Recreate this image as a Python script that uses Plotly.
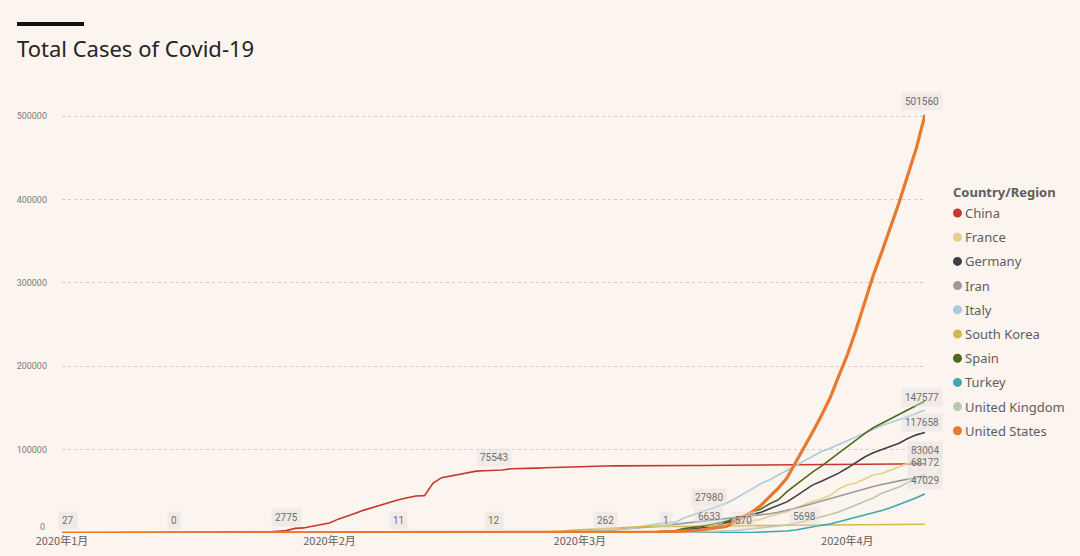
import pandas as pd
import plotly.graph_objects as go

# ---------------- data ----------------
countries = ["China", "France", "Germany", "Iran", "Italy", "South Korea",
             "Spain", "Turkey", "United Kingdom", "United States"]
colors = ["#C8372D", "#E6CF86", "#3F3F45", "#9A9A9A", "#A9CCD8", "#D6B94E",
          "#4D6A1C", "#3AA8AE", "#B9C8AA", "#E8792F"]

# first date with data after the Jan-1 zero point, then daily cumulative totals
china_start = "2020-01-22"
china = [548, 643, 920, 1406, 2075, 2877, 5509, 6087, 8141, 9802,
         11891, 16630, 19716, 23707, 27440, 30587, 34110, 36814, 39829, 42354,
         44386, 44759, 59895, 66358, 68413, 70513, 72434, 74211, 74619, 75077,
         75550, 77001, 77022, 77241, 77754, 78166, 78600, 78928, 79356, 79932,
         80136, 80261, 80386, 80537, 80690, 80770, 80823, 80860, 80887, 80921,
         80932, 80945, 80977, 81003, 81033, 81058, 81102, 81156, 81250, 81305,
         81435, 81498, 81591, 81661, 81782, 81897, 81999, 82122, 82198, 82279,
         82361, 82432, 82511, 82543, 82602, 82665, 82718, 82809, 82883, 83004]
china_jan1 = 27

france_start = "2020-02-28"
france = [57, 100, 130, 191, 204, 288, 380, 656, 959, 1136, 1219, 1794, 2293,
          2293, 3681, 4496, 4532, 6633, 7715, 9124, 10970, 12758, 14463, 16243,
          20123, 22622, 25600, 29551, 33402, 38105, 40708, 45170, 52827, 57749,
          59929, 65202, 69500, 71412, 75343, 79163, 83057, 87366, 89000]

germany_start = "2020-03-01"
germany = [130, 159, 196, 262, 482, 670, 799, 1040, 1176, 1457, 1908, 2078,
           3675, 4585, 5795, 7272, 9257, 12327, 15320, 19848, 22213, 24873,
           29056, 32986, 37323, 43938, 50871, 57695, 62095, 66885, 71808, 77872,
           84794, 91159, 96092, 100123, 103374, 107663, 113296, 117658, 120500]

iran_start = "2020-02-19"
iran = [2, 5, 18, 28, 43, 61, 95, 139, 245, 388, 593, 978, 1501, 2336, 2922,
        3513, 4747, 5823, 6566, 7161, 8042, 9000, 10075, 11364, 12729, 13938,
        14991, 16169, 17361, 18407, 19644, 20610, 21638, 23049, 24811, 27017,
        29406, 32332, 35408, 38309, 41495, 44605, 47593, 50468, 53183, 55743,
        58226, 60500, 62589, 64586, 66220, 68192]

italy_start = "2020-02-21"
italy = [20, 62, 155, 229, 322, 453, 655, 888, 1128, 1694, 2036, 2502, 3089,
         3858, 4636, 5883, 7375, 9172, 10149, 12462, 12462, 17660, 21157, 24747,
         27980, 31506, 35713, 41035, 47021, 53578, 59138, 63927, 69176, 74386,
         80589, 86498, 92472, 97689, 101739, 105792, 110574, 115242, 119827,
         124632, 128948, 132547, 135586, 139422, 143626, 147577]

korea_start = "2020-02-18"
korea = [31, 31, 104, 204, 433, 602, 833, 977, 1261, 1766, 2337, 3150, 3736,
         4335, 5186, 5621, 6088, 6593, 7041, 7314, 7478, 7513, 7755, 7869, 7979,
         8086, 8162, 8236, 8320, 8413, 8565, 8652, 8799, 8897, 8961, 9037, 9137,
         9241, 9332, 9478, 9583, 9661, 9786, 9887, 9976, 10062, 10156, 10237,
         10284, 10331, 10384, 10423, 10450]

spain_start = "2020-03-01"
spain = [84, 120, 165, 222, 259, 400, 500, 673, 1073, 1695, 2277, 2277, 5232,
         6391, 7798, 9942, 11748, 13910, 17963, 20410, 25374, 28768, 35136,
         39885, 49515, 57786, 65719, 73235, 80110, 87956, 95923, 104118, 112065,
         119199, 126168, 131646, 136675, 141942, 148220, 153222, 158273]

turkey_start = "2020-03-11"
turkey = [1, 1, 5, 5, 6, 18, 47, 98, 192, 359, 670, 1236, 1529, 1872, 2433,
          3629, 5698, 7402, 9217, 10827, 13531, 15679, 18135, 20921, 23934,
          27069, 30217, 34109, 38226, 42282, 47029]

uk_start = "2020-03-01"
uk = [36, 40, 51, 86, 116, 164, 207, 274, 322, 384, 459, 459, 801, 1143, 1143,
      1551, 1960, 2642, 2716, 4014, 5067, 5741, 6726, 8077, 9529, 11658, 14543,
      17089, 19522, 22141, 25150, 29474, 33718, 38168, 41903, 47806, 51608,
      55242, 60733, 65077, 70500]

us_start = "2020-03-01"
us = [75, 100, 124, 158, 221, 319, 435, 541, 704, 994, 1301, 1630, 2183, 2770,
      3613, 4596, 6344, 7869, 13680, 19101, 25493, 33272, 43847, 53740, 65778,
      83836, 101657, 121478, 140886, 161807, 188172, 213372, 243453, 275586,
      308850, 337072, 366667, 396223, 429052, 461437, 501560]

series_start = [china_start, france_start, germany_start, iran_start, italy_start,
                korea_start, spain_start, turkey_start, uk_start, us_start]
series_vals = [china, france, germany, iran, italy, korea, spain, turkey, uk, us]
jan1_vals = [china_jan1, 0, 0, 0, 0, 0, 0, 0, 0, 0]

x_start = "2020-01-01"
x_end = "2020-04-10"
month_ticks = ["2020-01-01", "2020-02-01", "2020-03-01", "2020-04-01"]
month_labels = ["2020年1月", "2020年2月", "2020年3月", "2020年4月"]
y_ticks = [100000, 200000, 300000, 400000, 500000]

# data labels shown on the chart
lbl_text = ["27", "0", "2775", "11", "12", "75543", "262", "1", "27980", "6633",
            "570", "5698"]
lbl_date = ["2020-01-01 18:00", "2020-01-14", "2020-01-27", "2020-02-09", "2020-02-20",
            "2020-02-20", "2020-03-04", "2020-03-11", "2020-03-16", "2020-03-16",
            "2020-03-20", "2020-03-27"]
lbl_y = [15500, 15500, 19000, 15500, 15500, 90000, 15500, 15500, 43000, 20000,
         15500, 20000]
end_text = ["501560", "147577", "117658", "83004", "68172", "47029"]
end_y = [518000, 163000, 132000, 98500, 84000, 62500]

# ---------------- figure ----------------
BG = "#FCF4EF"
L, R, T, B = 62, 155, 100, 23
W, H = 1080, 556
PW, PH = W - L - R, H - T - B


def px(xp):
    return (xp - L) / PW


def py(yp):
    return (H - B - yp) / PH


fig = go.Figure()
for name, col, st, vals, j1 in zip(countries, colors, series_start, series_vals, jan1_vals):
    dates = [pd.Timestamp(x_start)] + list(pd.date_range(st, periods=len(vals), freq="D"))
    fig.add_trace(go.Scatter(
        x=dates, y=[j1] + vals, mode="lines", name=name,
        line=dict(color=col, width=3.2 if name == "United States" else 1.6),
        showlegend=False, hoverinfo="x+y+name"))

lbl_font = dict(family="Roboto", size=10, color="#6E6E6E")
for t, d, yv in zip(lbl_text, lbl_date, lbl_y):
    fig.add_annotation(x=d, y=yv, xref="x", yref="y", text=t, showarrow=False,
                       font=lbl_font, bgcolor="rgba(226,224,222,0.45)", borderpad=3)
for t, yv in zip(end_text, end_y):
    fig.add_annotation(x=x_end, y=yv, xref="x", yref="y", text=t, showarrow=False,
                       xanchor="right", xshift=18, font=lbl_font,
                       bgcolor="rgba(226,224,222,0.45)", borderpad=3)

# y-axis zero label (sits slightly above the axis in the reference)
fig.add_annotation(xref="paper", yref="paper", x=px(47), y=py(527), xanchor="right",
                   yanchor="middle", text="0", showarrow=False,
                   font=dict(family="Roboto", size=9, color="#7A7A7A"))

# title and bar
fig.add_shape(type="rect", xref="paper", yref="paper", x0=px(17), x1=px(84),
              y0=py(26), y1=py(22), fillcolor="#111111", line_width=0)
fig.add_annotation(xref="paper", yref="paper", x=px(15), y=py(48), xanchor="left",
                   yanchor="middle", text="Total Cases of Covid-19", showarrow=False,
                   font=dict(family="Noto Sans", size=22, color="#252423"))

# legend (manual)
fig.add_annotation(xref="paper", yref="paper", x=px(951), y=py(192), xanchor="left",
                   yanchor="middle", text="<b>Country/Region</b>", showarrow=False,
                   font=dict(family="Noto Sans", size=13, color="#605E5C"))
for i, (name, col) in enumerate(zip(countries, colors)):
    yy = 213 + i * 24.2
    fig.add_shape(type="circle", xref="paper", yref="paper",
                  x0=px(953), x1=px(962), y0=py(yy + 4.5), y1=py(yy - 4.5),
                  fillcolor=col, line_width=0)
    fig.add_annotation(xref="paper", yref="paper", x=px(963), y=py(yy), xanchor="left",
                       yanchor="middle", text=name, showarrow=False,
                       font=dict(family="Noto Sans", size=13, color="#605E5C"))

fig.update_layout(
    width=W, height=H,
    margin=dict(l=L, r=R, t=T, b=B, autoexpand=False),
    paper_bgcolor=BG, plot_bgcolor=BG,
    showlegend=False,
    xaxis=dict(range=[x_start, x_end], tickvals=month_ticks, ticktext=month_labels,
               showgrid=False, zeroline=False, showline=False, ticks="",
               tickfont=dict(family="Noto Sans CJK SC", size=11, color="#605E5C")),
    yaxis=dict(range=[0, 519200], tickvals=y_ticks,
               ticktext=[str(v) for v in y_ticks],
               showgrid=True, gridcolor="#CFCBC8", griddash="dot", gridwidth=1,
               zeroline=False, showline=False, ticks="", ticklabelstandoff=14,
               tickfont=dict(family="Roboto", size=9, color="#7A7A7A")),
)
fig.write_html("out.html", config={"displayModeBar": False},
               post_script="document.body.style.margin='0';"
                           "document.body.style.background='" + BG + "';")
